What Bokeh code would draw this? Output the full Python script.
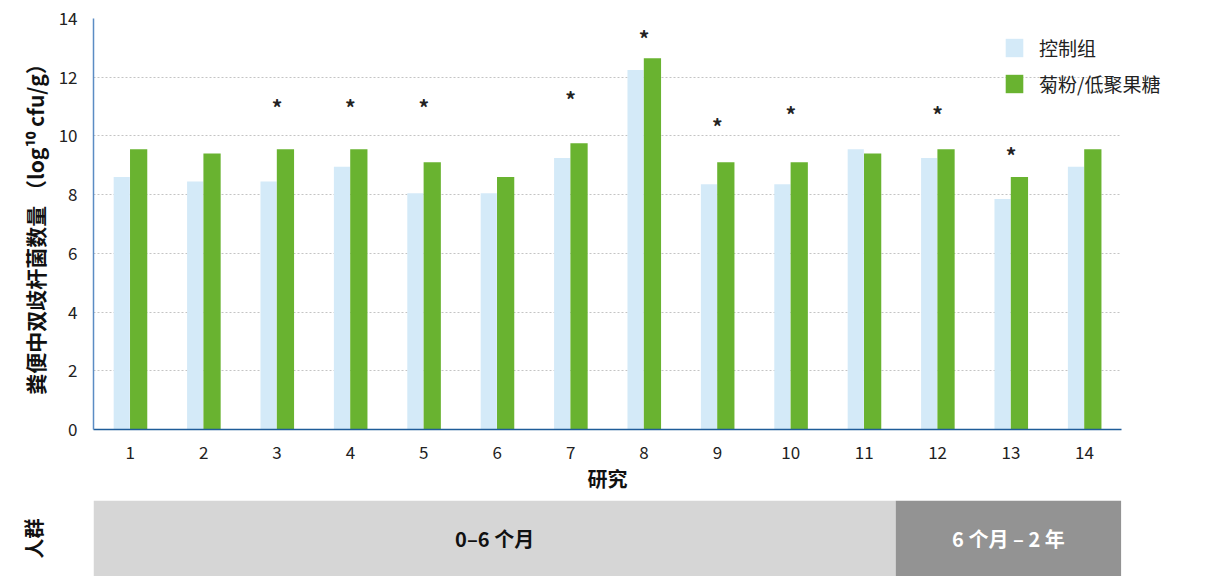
from bokeh.plotting import figure
from bokeh.models import (Range1d, FixedTicker, Legend, LegendItem, ColumnDataSource,
                          LinearAxis, Title)
from bokeh.layouts import column
from bokeh.core.properties import value
from bokeh.transform import dodge
from bokeh.embed import file_html
from bokeh.resources import INLINE

# ---------------- data ----------------
studies = list(range(1, 15))
control = [8.6, 8.45, 8.45, 8.95, 8.05, 8.05, 9.25, 12.25, 8.35, 8.35, 9.55, 9.25, 7.85, 8.95]
inulin = [9.55, 9.4, 9.55, 9.55, 9.1, 8.6, 9.75, 12.65, 9.1, 9.1, 9.4, 9.55, 8.6, 9.55]
sig_studies = [3, 4, 5, 7, 8, 9, 10, 12, 13]
sig_marks_y = [11.1, 11.1, 11.1, 11.35, 13.45, 10.45, 10.85, 10.85, 9.45]
series_names = ["控制组", "菊粉/低聚果糖"]
y_ticks = [0, 2, 4, 6, 8, 10, 12, 14]
group_labels = ["0–6 个月", "6 个月 – 2 年"]
group_edges = [0.5, 11.43, 14.5]

FONT = "Noto Sans CJK SC"
C_CTRL = "#d4eaf8"
C_INU = "#69b330"
X_END = 15.65  # frame extends to the window edge so the legend is not clipped

# ---------------- main chart ----------------
p = figure(width=1205, height=500, output_backend="svg", toolbar_location=None,
           x_range=Range1d(0.5, X_END), y_range=Range1d(0, 14),
           min_border_left=92, min_border_right=0, min_border_top=18, min_border_bottom=71)
p.outline_line_color = None
p.background_fill_color = "white"

src = ColumnDataSource(dict(x=studies, control=control, inulin=inulin))
r1 = p.vbar(x=dodge("x", -0.115, range=p.x_range), top="control", bottom=0, width=0.22,
            source=src, fill_color=C_CTRL, line_color=None)
r2 = p.vbar(x=dodge("x", 0.115, range=p.x_range), top="inulin", bottom=0, width=0.235,
            source=src, fill_color=C_INU, line_color=None)

sig_src = ColumnDataSource(dict(x=sig_studies, y=sig_marks_y, t=["*"] * len(sig_studies)))
p.text(x="x", y="y", text="t", source=sig_src, text_font=value(FONT),
       text_font_size="21px", text_font_style="bold", text_color="#222222",
       text_align="center", text_baseline="middle", y_offset=3)

# axes
p.xaxis.ticker = FixedTicker(ticks=studies)
p.yaxis.ticker = FixedTicker(ticks=y_ticks)
for ax in (p.xaxis[0], p.yaxis[0]):
    ax.major_tick_line_color = None
    ax.minor_tick_line_color = None
    ax.major_label_text_font = FONT
    ax.major_label_text_font_size = "17px"
    ax.major_label_text_color = "#222222"
    ax.axis_label_text_font = FONT
    ax.axis_label_text_font_style = "bold"
    ax.axis_label_text_color = "#111111"
    ax.axis_label_text_font_size = "20px"
p.xaxis.bounds = (0.5, 14.5)
p.xaxis.axis_line_color = "#1f5c99"
p.xaxis.axis_line_width = 1.5
p.yaxis.axis_line_color = "#5b8cc4"
p.yaxis.axis_line_width = 1.5
p.xaxis.major_label_standoff = 10
p.yaxis.axis_label = "粪便中双歧杆菌数量 （log¹⁰ cfu/g）"
p.yaxis.axis_label_text_font_size = "21px"
p.yaxis.major_label_standoff = 10
p.yaxis.axis_label_standoff = 6

# x-axis title, positioned under the category span (not the whole frame)
xt = Title(text="研究", align="left", offset=494, standoff=0)
xt.text_font = FONT
xt.text_font_size = "20px"
xt.text_font_style = "bold"
xt.text_color = "#111111"
p.add_layout(xt, "below")

p.xgrid.grid_line_color = None
p.ygrid.ticker = FixedTicker(ticks=y_ticks)
p.ygrid.cross_bounds = (0.5, 14.5)
p.ygrid.grid_line_color = "#c4c4c4"
p.ygrid.grid_line_dash = "2 2"
p.ygrid.grid_line_width = 1

legend = Legend(items=[LegendItem(label=series_names[0], renderers=[r1]),
                       LegendItem(label=series_names[1], renderers=[r2])],
                location=(910, 332))
legend.label_text_font = FONT
legend.label_text_font_size = "19px"
legend.label_text_color = "#222222"
legend.glyph_width = 22
legend.glyph_height = 23
legend.label_standoff = 14
legend.spacing = 9
legend.padding = 0
legend.margin = 0
legend.background_fill_alpha = 0
legend.border_line_color = None
p.add_layout(legend)

# ---------------- population band ----------------
b = figure(width=1205, height=76, output_backend="svg", toolbar_location=None,
           x_range=Range1d(0.5, X_END), y_range=Range1d(0, 1),
           min_border_left=93, min_border_right=0, min_border_top=0, min_border_bottom=0,
           x_axis_type=None, y_axis_type=None)
b.outline_line_color = None
b.xgrid.grid_line_color = None
b.ygrid.grid_line_color = None
b.quad(left=group_edges[:-1], right=group_edges[1:], bottom=0, top=1,
       fill_color=["#d6d6d6", "#939393"], line_color=None)
centers = [(group_edges[i] + group_edges[i + 1]) / 2 for i in range(len(group_labels))]
b.text(x=centers, y=[0.5, 0.5], text=group_labels, text_font=value(FONT),
       text_font_size="20px", text_font_style="bold",
       text_color=["#111111", "#ffffff"], text_align="center", text_baseline="middle")
yax = LinearAxis(ticker=FixedTicker(ticks=[]), axis_label="人群")
yax.axis_line_color = None
yax.major_tick_line_color = None
yax.minor_tick_line_color = None
yax.axis_label_text_font = FONT
yax.axis_label_text_font_style = "bold"
yax.axis_label_text_font_size = "20px"
yax.axis_label_text_color = "#111111"
yax.axis_label_standoff = 46
b.add_layout(yax, "left")

layout = column(p, b, spacing=0)
open("out.html", "w").write(file_html(layout, INLINE))
